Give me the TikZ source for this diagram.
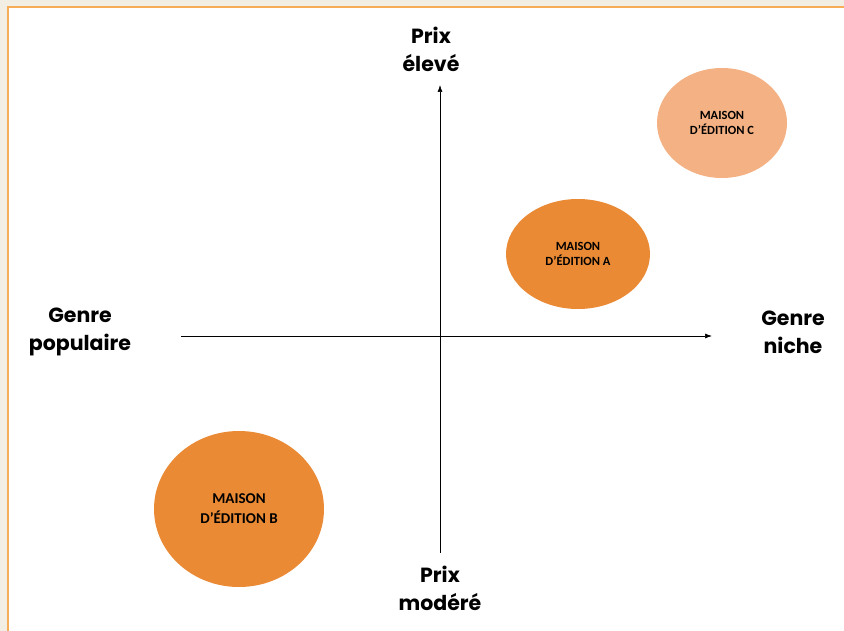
\documentclass[tikz,border=0pt]{standalone}
\usepackage{fontspec}
\setmainfont{Poppins}
\newfontfamily\boxfont{Carlito}
\usetikzlibrary{arrows.meta,positioning,shapes.geometric}

\definecolor{pagebg}{HTML}{F2EEE3}
\definecolor{frameorange}{HTML}{F7AD57}
\definecolor{editionorange}{HTML}{EA8A35}
\definecolor{editionlight}{HTML}{F4B183}

\begin{document}
\begin{tikzpicture}[x=1pt,y=-1pt]
            \tikzstyle{axislabel}=[align=center,font=\fontsize{20.5}{28}\selectfont\bfseries]
            \tikzstyle{edition}=[ellipse,inner sep=0pt,align=center,
            font=\boxfont\bfseries\fontsize{12.5}{15}\selectfont]
            \tikzstyle{axis}=[-{Latex[length=7pt,width=5pt]},line width=0.7pt]

            % page and frame
            \useasboundingbox (0,0) rectangle (844,631);
            \fill[pagebg] (0,0) rectangle (844,631);
            \fill[white] (8,7) rectangle (850,640);
            \draw[frameorange,line width=1.6pt] (8,640) -- (8,7) -- (850,7);

            % axes
            \coordinate (xmin) at (181,336);
            \coordinate (xmax) at (712,336);
            \coordinate (ymin) at (440,553);
            \coordinate (ymax) at (440,85);
            \draw[axis] (xmin) -- (xmax);
            \draw[axis] (ymin) -- (ymax);

            \node [axislabel] (high) at (431,49) {Prix\\élevé};
            \node [axislabel] (low) at (440,588) {Prix\\modéré};
            \node [axislabel] (popular) at (80,332) {Genre\\populaire};
            \node [axislabel] (niche) at (793,332) {Genre\\niche};

            % publishers
            \node [edition,fill=editionlight,minimum width=130pt,minimum height=110pt]
                (edC) at (722,123) {MAISON\\D’ÉDITION C};
            \node [edition,fill=editionorange,minimum width=144pt,minimum height=110pt]
                (edA) at (578,254) {MAISON\\D’ÉDITION A};
            \node [edition,fill=editionorange,minimum width=170pt,minimum height=156pt,
                font=\boxfont\bfseries\fontsize{15}{20}\selectfont]
                (edB) at (239,509) {MAISON\\D’ÉDITION B};
        \end{tikzpicture}
\end{document}
